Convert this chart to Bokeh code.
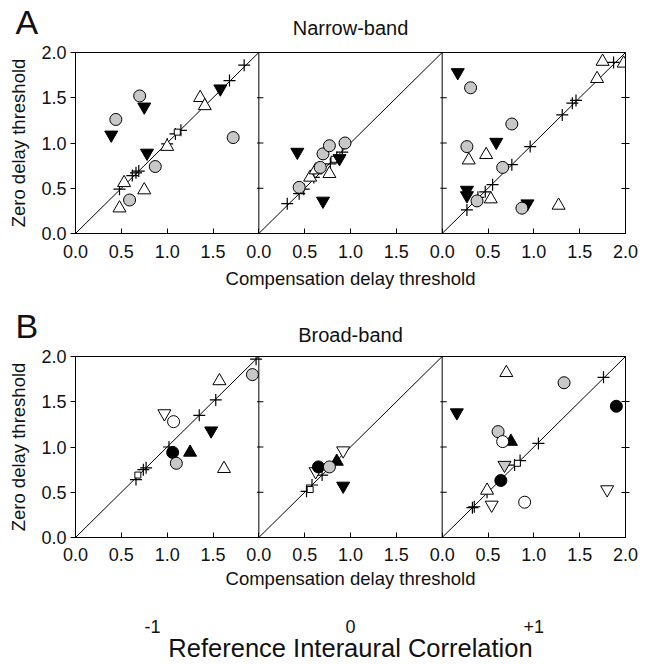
from bokeh.plotting import figure
from bokeh.layouts import column
from bokeh.models import (ColumnDataSource, FixedTicker, LinearAxis, Label, Range1d,
                          Span, PrintfTickFormatter)
from bokeh.transform import dodge
from bokeh.embed import file_html
from bokeh.resources import INLINE

FONT = "Liberation Sans"

REF_CORR = ["-1", "0", "+1"]
X_TICKS = [0.0, 0.5, 1.0, 1.5]
Y_TICKS = [0.0, 0.5, 1.0, 1.5, 2.0]

# ---- Narrow-band: one inner list per reference correlation (-1, 0, +1) ----
NB_PLUS_X = [[0.48, 0.62, 0.66, 0.69, 1.00, 1.09, 1.15, 1.68, 1.84],
             [0.31, 0.44, 0.49, 0.60, 0.78, 0.85, 0.91],
             [0.27, 0.39, 0.47, 0.55, 0.76, 0.96, 1.31, 1.42, 1.46, 1.87]]
NB_PLUS_Y = [[0.49, 0.64, 0.67, 0.69, 0.99, 1.10, 1.14, 1.69, 1.86],
             [0.33, 0.44, 0.49, 0.62, 0.77, 0.84, 0.90],
             [0.26, 0.40, 0.46, 0.54, 0.76, 0.96, 1.31, 1.44, 1.47, 1.89]]
NB_SQ_X = [[1.11], [0.82], []]
NB_SQ_Y = [[1.12], [0.82], []]
NB_OUP_X = [[1.36, 1.41, 1.00, 0.53, 0.75, 0.48],
            [0.77, 0.56, 0.62],
            [0.29, 0.48, 0.53, 1.27, 1.69, 1.75, 1.98]]
NB_OUP_Y = [[1.50, 1.41, 0.96, 0.56, 0.48, 0.28],
            [0.66, 0.62, 0.70],
            [0.81, 0.87, 0.38, 0.31, 1.71, 1.90, 1.88]]
NB_BDOWN_X = [[0.39, 0.75, 0.78, 1.58],
              [0.42, 0.70, 0.88],
              [0.17, 0.59, 0.27, 0.27, 0.93]]
NB_BDOWN_Y = [[1.09, 1.40, 0.89, 1.60],
              [0.90, 0.36, 0.83],
              [1.78, 1.01, 0.48, 0.42, 0.33]]
NB_GRAY_X = [[0.44, 0.70, 0.87, 0.59, 1.72],
             [0.44, 0.67, 0.70, 0.77, 0.94],
             [0.31, 0.76, 0.27, 0.66, 0.38, 0.87]]
NB_GRAY_Y = [[1.26, 1.52, 0.74, 0.37, 1.06],
             [0.51, 0.73, 0.88, 0.97, 1.00],
             [1.61, 1.21, 0.96, 0.73, 0.36, 0.28]]

# ---- Broad-band ----
BB_PLUS_X = [[0.66, 0.74, 0.77, 1.02, 1.35, 1.53, 1.97],
             [0.52, 0.58, 0.69],
             [0.33, 0.35, 0.49, 0.79, 0.85, 1.05, 1.76]]
BB_PLUS_Y = [[0.64, 0.75, 0.77, 1.00, 1.35, 1.52, 1.97],
             [0.51, 0.58, 0.69],
             [0.33, 0.34, 0.50, 0.80, 0.85, 1.04, 1.77]]
BB_SQ_X = [[0.68], [0.56], [0.82]]
BB_SQ_Y = [[0.69], [0.53], [0.82]]
BB_OUP_X = [[1.57, 1.62], [], [0.70, 0.49]]
BB_OUP_Y = [[1.73, 0.76], [], [1.82, 0.52]]
BB_ODOWN_X = [[0.97], [0.92, 0.62], [0.54, 1.80]]
BB_ODOWN_Y = [[1.37], [0.96, 0.73], [0.36, 0.53]]
BB_BDOWN_X = [[1.48], [0.92], [0.16]]
BB_BDOWN_Y = [[1.18], [0.57], [1.38]]
BB_BUP_X = [[1.25], [0.85], [0.75]]
BB_BUP_Y = [[0.94], [0.84], [1.06]]
BB_GDOWN_X = [[], [], [0.68]]
BB_GDOWN_Y = [[], [], [0.80]]
BB_BCIRC_X = [[1.06], [0.65], [1.90, 0.64]]
BB_BCIRC_Y = [[0.94], [0.78], [1.45, 0.63]]
BB_GRAY_X = [[1.10, 1.93], [0.77], [1.33, 0.61]]
BB_GRAY_Y = [[0.82, 1.80], [0.78], [1.71, 1.17]]
BB_OCIRC_X = [[1.07], [], [0.66, 0.90]]
BB_OCIRC_Y = [[1.28], [], [1.06, 0.39]]

GRAY = "#c8c8c8"
INK = "#111111"
STYLE = {
    "plus": dict(marker="cross", size=12, line_color="black", line_width=1.2),
    "sq": dict(marker="square", size=6, fill_color="white", line_color="black"),
    "oup": dict(marker="triangle", size=13, fill_color="white", line_color="black"),
    "odown": dict(marker="inverted_triangle", size=13, fill_color="white", line_color="black"),
    "bdown": dict(marker="inverted_triangle", size=13, fill_color="black", line_color="black"),
    "bup": dict(marker="triangle", size=13, fill_color="black", line_color="black"),
    "gdown": dict(marker="inverted_triangle", size=13, fill_color=GRAY, line_color="black"),
    "bcirc": dict(marker="circle", size=12, fill_color="black", line_color="black"),
    "gray": dict(marker="circle", size=12, fill_color=GRAY, line_color="black"),
    "ocirc": dict(marker="circle", size=12, fill_color="white", line_color="black"),
}
ORDER = ["plus", "sq", "oup", "odown", "bdown", "bup", "gdown", "bcirc", "gray", "ocirc"]

NARROW = {
    "plus": (NB_PLUS_X, NB_PLUS_Y), "sq": (NB_SQ_X, NB_SQ_Y),
    "oup": (NB_OUP_X, NB_OUP_Y), "bdown": (NB_BDOWN_X, NB_BDOWN_Y),
    "gray": (NB_GRAY_X, NB_GRAY_Y),
}
BROAD = {
    "plus": (BB_PLUS_X, BB_PLUS_Y), "sq": (BB_SQ_X, BB_SQ_Y),
    "oup": (BB_OUP_X, BB_OUP_Y), "odown": (BB_ODOWN_X, BB_ODOWN_Y),
    "bdown": (BB_BDOWN_X, BB_BDOWN_Y), "bup": (BB_BUP_X, BB_BUP_Y),
    "gdown": (BB_GDOWN_X, BB_GDOWN_Y), "bcirc": (BB_BCIRC_X, BB_BCIRC_Y),
    "gray": (BB_GRAY_X, BB_GRAY_Y), "ocirc": (BB_OCIRC_X, BB_OCIRC_Y),
}

N_PANELS = len(REF_CORR)
SPAN = 2.0  # width of one panel in data units


def make_row(name, letter, data, height, border_top, border_bottom, name_lift,
             tick_standoff, xlabel_standoff):
    # the figure title carries the panel letter, pushed out to the left margin
    p = figure(width=649, height=height, title=letter,
               x_range=Range1d(0, SPAN * N_PANELS), y_range=Range1d(0, 2),
               output_backend="svg", toolbar_location=None,
               min_border_left=75, min_border_right=24,
               min_border_top=border_top, min_border_bottom=border_bottom,
               x_axis_label="Compensation delay threshold",
               y_axis_label="Zero delay threshold")
    p.grid.visible = False
    p.outline_line_color = "black"
    p.outline_line_alpha = 1
    p.outline_line_width = 1

    p.title.align = "left"
    p.title.offset = -60
    p.title.standoff = -20
    p.title.text_font = FONT
    p.title.text_font_size = "34px"
    p.title.text_font_style = "normal"
    p.title.text_color = INK

    # x axis: each panel restarts at 0.0, the last one closes with 2.0
    ticks, labels = [], {}
    for k in range(N_PANELS):
        for t in X_TICKS:
            ticks.append(SPAN * k + t)
            labels[SPAN * k + t] = f"{t:.1f}"
    ticks.append(SPAN * N_PANELS)
    labels[SPAN * N_PANELS] = f"{SPAN:.1f}"
    xa = p.xaxis[0]
    xa.ticker = FixedTicker(ticks=ticks)
    xa.major_label_overrides = labels
    xa.major_tick_in = 5
    xa.major_tick_out = 0
    xa.minor_tick_line_color = None
    xa.major_label_standoff = tick_standoff
    xa.axis_label_standoff = xlabel_standoff

    ya = p.yaxis[0]
    ya.ticker = FixedTicker(ticks=Y_TICKS)
    ya.formatter = PrintfTickFormatter(format="%.1f")
    ya.major_tick_in = 0
    ya.major_tick_out = 5
    ya.minor_tick_line_color = None
    ya.major_label_standoff = 4
    ya.axis_label_standoff = 9

    for ax in (xa, ya):
        ax.axis_line_color = "black"
        ax.major_tick_line_color = "black"
        ax.major_label_text_font = FONT
        ax.major_label_text_font_size = "18px"
        ax.major_label_text_color = INK
        ax.axis_label_text_font = FONT
        ax.axis_label_text_font_size = "18.5px"
        ax.axis_label_text_font_style = "normal"
        ax.axis_label_text_color = INK

    # right edge ticks (no labels)
    inner_ticks = Y_TICKS[1:-1]
    ra = LinearAxis(ticker=FixedTicker(ticks=inner_ticks), major_tick_in=4, major_tick_out=4,
                    major_label_overrides={t: "" for t in inner_ticks},
                    major_label_standoff=0, minor_tick_line_color=None,
                    axis_line_color="black")
    p.add_layout(ra, "right")

    # panel dividers with their own small ticks
    for k in range(1, N_PANELS):
        p.add_layout(Span(location=SPAN * k, dimension="height", line_color="black", line_width=1))
        p.segment(x0=[SPAN * k - 0.02] * len(inner_ticks), y0=inner_ticks,
                  x1=[SPAN * k + 0.05] * len(inner_ticks), y1=inner_ticks,
                  line_color="black", line_width=1)

    # identity lines
    p.segment(x0=[SPAN * k for k in range(N_PANELS)], y0=[0] * N_PANELS,
              x1=[SPAN * (k + 1) for k in range(N_PANELS)], y1=[2] * N_PANELS,
              line_color="black", line_width=1)

    for kind in ORDER:
        if kind not in data:
            continue
        xs_panels, ys_panels = data[kind]
        for k, (xs, ys) in enumerate(zip(xs_panels, ys_panels)):
            if not xs:
                continue
            src = ColumnDataSource(dict(x=xs, y=ys))
            p.scatter(x=dodge("x", SPAN * k), y="y", source=src, **STYLE[kind])

    # band name centred over the three panels, kept in the top side panel
    p.add_layout(Label(x=SPAN * N_PANELS / 2, y=2, text=name, y_offset=name_lift,
                       text_align="center", text_baseline="alphabetic",
                       text_font=FONT, text_font_size="20px", text_color=INK), "above")
    return p


top = make_row("Narrow-band", "A", NARROW, height=300, border_top=52, border_bottom=67,
               name_lift=25, tick_standoff=11, xlabel_standoff=7)
bottom = make_row("Broad-band", "B", BROAD, height=364, border_top=56, border_bottom=126,
                  name_lift=22, tick_standoff=10, xlabel_standoff=4)

corr_ticks = [0.84, SPAN * 1 + 1.0, SPAN * 2 + 1.0]
corr_axis = LinearAxis(ticker=FixedTicker(ticks=corr_ticks),
                       major_label_overrides=dict(zip(corr_ticks, REF_CORR)),
                       axis_line_color=None, major_tick_line_color=None,
                       minor_tick_line_color=None, major_label_standoff=22,
                       major_label_text_font=FONT, major_label_text_font_size="18px",
                       major_label_text_color=INK,
                       axis_label="Reference Interaural Correlation",
                       axis_label_text_font=FONT, axis_label_text_font_size="25.5px",
                       axis_label_text_font_style="normal", axis_label_text_color=INK,
                       axis_label_standoff=-2)
bottom.add_layout(corr_axis, "below")

layout = column(top, bottom, spacing=0)
open("out.html", "w").write(file_html(layout, INLINE))
